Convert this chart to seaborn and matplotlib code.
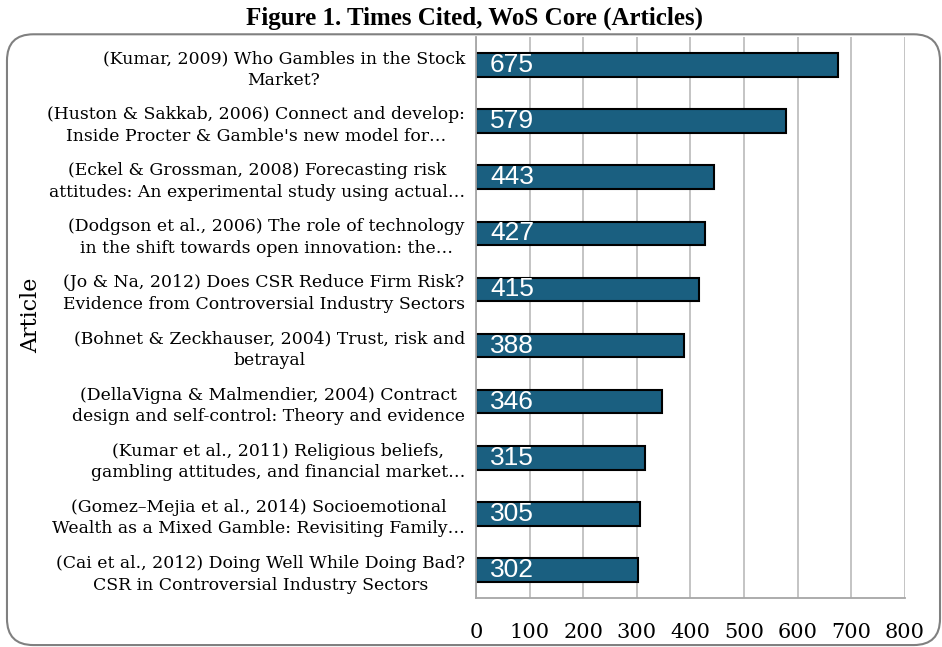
import matplotlib
matplotlib.use("Agg")
import matplotlib.pyplot as plt
import seaborn as sns
from matplotlib.patches import FancyBboxPatch

articles = [
    "(Kumar, 2009) Who Gambles in the Stock\nMarket?",
    "(Huston & Sakkab, 2006) Connect and develop:\nInside Procter & Gamble's new model for…",
    "(Eckel & Grossman, 2008) Forecasting risk\nattitudes: An experimental study using actual…",
    "(Dodgson et al., 2006) The role of technology\nin the shift towards open innovation: the…",
    "(Jo & Na, 2012) Does CSR Reduce Firm Risk?\nEvidence from Controversial Industry Sectors",
    "(Bohnet & Zeckhauser, 2004) Trust, risk and\nbetrayal",
    "(DellaVigna & Malmendier, 2004) Contract\ndesign and self-control: Theory and evidence",
    "(Kumar et al., 2011) Religious beliefs,\ngambling attitudes, and financial market…",
    "(Gomez–Mejia et al., 2014) Socioemotional\nWealth as a Mixed Gamble: Revisiting Family…",
    "(Cai et al., 2012) Doing Well While Doing Bad?\nCSR in Controversial Industry Sectors",
]
times_cited = [675, 579, 443, 427, 415, 388, 346, 315, 305, 302]
x_ticks = [0, 100, 200, 300, 400, 500, 600, 700, 800]

sns.set_style("white")
plt.rcParams['font.family'] = ['DejaVu Serif']
plt.rcParams['text.color'] = 'black'
plt.rcParams['xtick.color'] = 'black'
plt.rcParams['ytick.color'] = 'black'

fig = plt.figure(figsize=(9.42, 6.47), dpi=100)
ax = fig.add_axes([0.5053, 0.0757, 0.4554, 0.8671])

sns.barplot(x=times_cited, y=articles, orient="h", color="#1a5f80",
            saturation=1, width=0.42, edgecolor="black", linewidth=1.5, ax=ax)

for i, v in enumerate(times_cited):
    ax.annotate(str(v), xy=(0, i), xytext=(10, 0), textcoords="offset points",
                ha="left", va="center", color="white", fontsize=19,
                family="Liberation Sans")

ax.set_xlim(0, 800)
ax.set_xticks(x_ticks)
ax.set_xticklabels([str(t) for t in x_ticks], fontsize=15)
ax.tick_params(axis="x", length=0, pad=18)
ax.tick_params(axis="y", length=0, pad=8, labelsize=12.4)
for lab in ax.get_yticklabels():
    lab.set_multialignment("center")
    lab.set_linespacing(1.35)

ax.xaxis.grid(True, color="#bfbfbf", linewidth=1.3)
ax.set_axisbelow(True)
for s in ["top", "right"]:
    ax.spines[s].set_visible(False)
for s in ["left", "bottom"]:
    ax.spines[s].set_color("#a6a6a6")
    ax.spines[s].set_linewidth(1.3)

ax.set_xlabel("")
ax.set_ylabel("")
fig.text(0.033, 0.513, "Article", rotation=90, ha="center", va="center", fontsize=16)

fig.suptitle("Figure 1. Times Cited, WoS Core (Articles)", x=0.504, y=0.99,
             fontsize=18, fontweight="bold", family="Liberation Serif", va="top")

# rounded chart-area border
border = FancyBboxPatch((0.0074, 0.003), 0.9905, 0.944, transform=fig.transFigure,
                        boxstyle="round,pad=0,rounding_size=0.028",
                        facecolor="none", edgecolor="#808080", linewidth=1.5,
                        mutation_aspect=942 / 647)
fig.patches.append(border)

fig.savefig("out.png", dpi=100)
